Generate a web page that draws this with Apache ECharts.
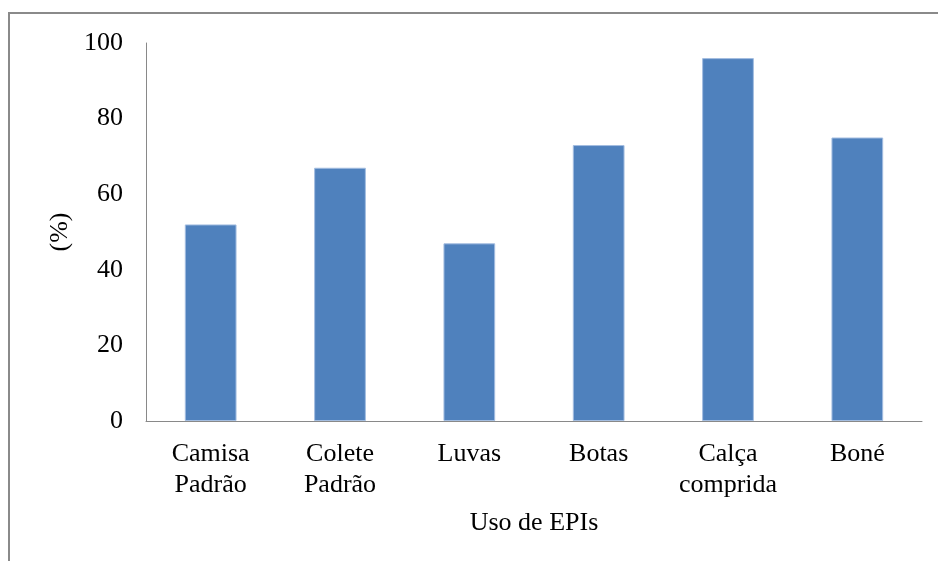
<!DOCTYPE html>
<html>
<head>
<meta charset="utf-8">
<title>Uso de EPIs</title>
<script src="https://cdn.jsdelivr.net/npm/echarts@6/dist/echarts.min.js"></script>
<style>
  html, body { margin: 0; padding: 0; background: #ffffff; }
  #chart { width: 938px; height: 561px; }
</style>
</head>
<body>
<div id="chart"></div>
<script>
// Equipment categories (two-line labels where the name wraps)
const categories = ['Camisa\nPadrão', 'Colete\nPadrão', 'Luvas', 'Botas', 'Calça\ncomprida', 'Boné'];
// Share of workers using each item (%)
const usage = [52, 67, 47, 73, 96, 75];
// Value axis ticks
const yTicks = [0, 20, 40, 60, 80, 100];

const serif = '"Liberation Serif", "Times New Roman", serif';
const axisGrey = '#898989';

const chart = echarts.init(document.getElementById('chart'), null, { renderer: 'canvas' });

chart.setOption({
  animation: false,
  backgroundColor: '#ffffff',
  graphic: [{
    type: 'rect',
    silent: true,
    shape: { x: 9, y: 13, width: 1200, height: 1200 },
    style: { fill: 'none', stroke: '#8a8a8a', lineWidth: 2 }
  }],
  grid: { left: 146, right: 16, top: 43, bottom: 140, containLabel: false },
  xAxis: {
    type: 'category',
    data: categories,
    name: 'Uso de EPIs',
    nameLocation: 'middle',
    nameGap: 89,
    nameTextStyle: { fontFamily: serif, fontSize: 26, color: '#000' },
    axisLine: { show: true, lineStyle: { color: axisGrey, width: 1 } },
    axisTick: { show: false },
    axisLabel: {
      interval: 0,
      margin: 18,
      fontFamily: serif,
      fontSize: 26,
      lineHeight: 31,
      color: '#000'
    }
  },
  yAxis: {
    type: 'value',
    min: yTicks[0],
    max: yTicks[yTicks.length - 1],
    interval: yTicks[1] - yTicks[0],
    name: '(%)',
    nameLocation: 'middle',
    nameGap: 72,
    nameRotate: 90,
    nameTextStyle: { fontFamily: serif, fontSize: 26, color: '#000' },
    axisLine: { show: true, lineStyle: { color: axisGrey, width: 1 } },
    axisTick: { show: false },
    splitLine: { show: false },
    axisLabel: { margin: 23, fontFamily: serif, fontSize: 26, color: '#000' }
  },
  series: [{
    type: 'bar',
    data: usage,
    barWidth: '40%',
    itemStyle: { color: '#4F81BD', borderColor: '#a3bde0', borderWidth: 1 }
  }]
});
</script>
</body>
</html>
